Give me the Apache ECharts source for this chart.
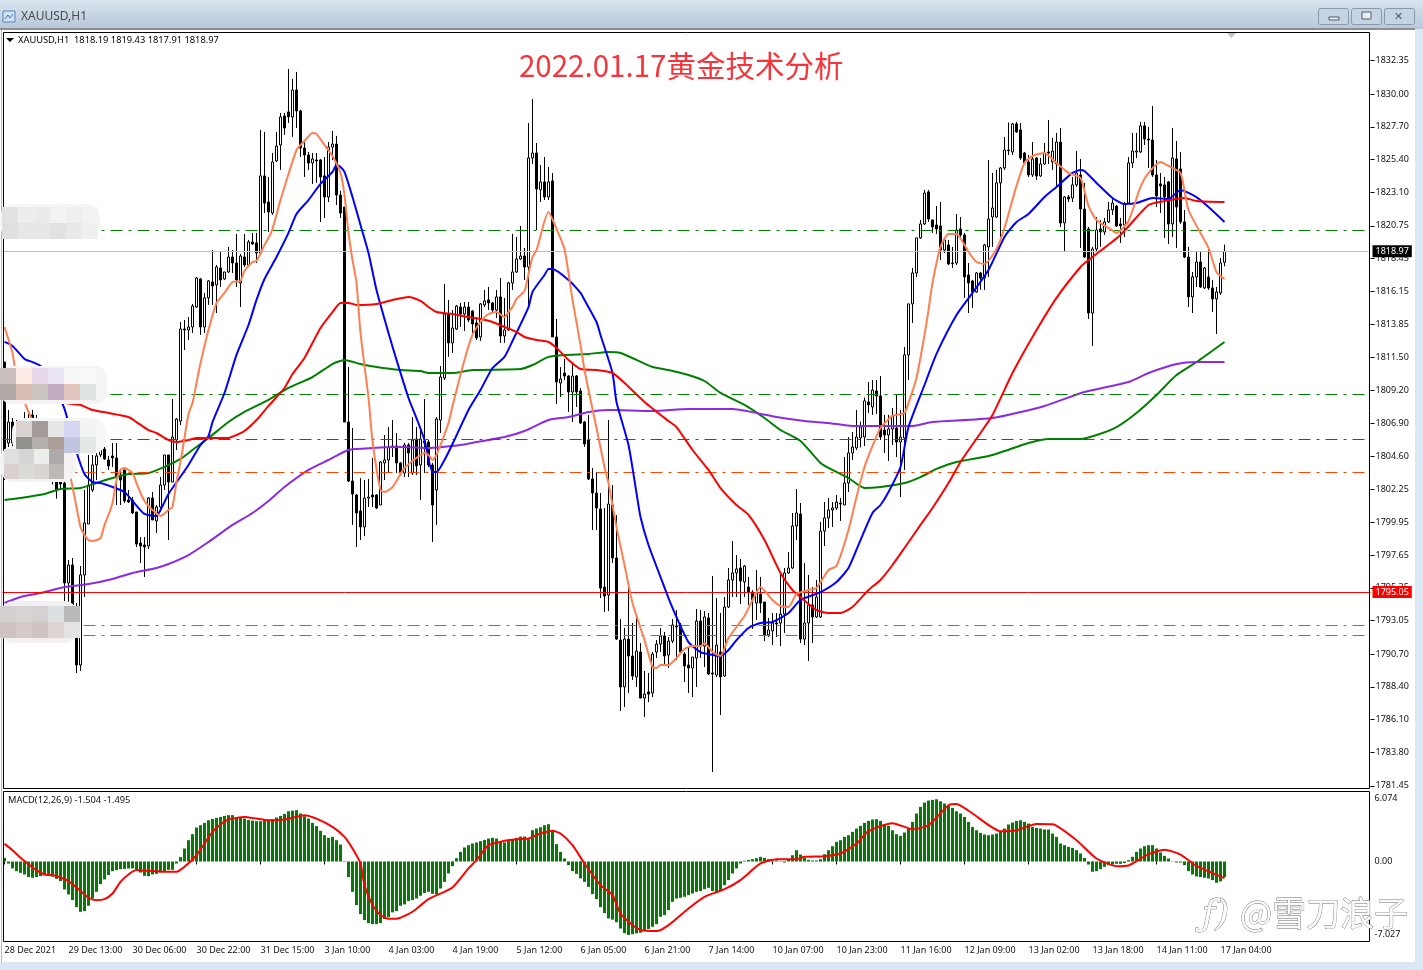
<!DOCTYPE html>
<html><head><meta charset="utf-8"><style>html,body{margin:0;padding:0;background:#dce7f4;overflow:hidden}#c{width:1423px;height:970px}</style>
<script src="https://cdn.jsdelivr.net/npm/echarts@6/dist/echarts.min.js"></script></head><body><div id="c"></div>
<script>
const timeLabels=['28 Dec 2021','29 Dec 13:00','30 Dec 06:00','30 Dec 22:00','31 Dec 15:00','3 Jan 10:00','4 Jan 03:00','4 Jan 19:00','5 Jan 12:00','6 Jan 05:00','6 Jan 21:00','7 Jan 14:00','10 Jan 07:00','10 Jan 23:00','11 Jan 16:00','12 Jan 09:00','13 Jan 02:00','13 Jan 18:00','14 Jan 11:00','17 Jan 04:00'];
const priceTicks=[1832.35,1830.00,1827.70,1825.40,1823.10,1820.75,1818.45,1816.15,1813.85,1811.50,1809.20,1806.90,1804.60,1802.25,1799.95,1797.65,1795.35,1793.05,1790.70,1788.40,1786.10,1783.80,1781.45];
const macdTicks=[6.074,0,-7.027];
// open, close, low, high
const candles=[
[1811.19,1805.02,1802.91,1811.19],[1805.51,1806.98,1805.23,1807.83],[1806.98,1805.51,1805.02,1807.26],[1806.42,1805.37,1804.88,1807.12],[1805.37,1806.28,1805.02,1806.77],[1806.28,1807.12,1805.72,1807.69],[1807.12,1806.56,1805.72,1807.55],[1807.48,1806.28,1805.37,1807.83],[1805.72,1806.77,1805.02,1807.48],[1806.77,1804.88,1804.3,1807.2],
[1805.02,1803.97,1803.4,1805.6],[1803.97,1804.88,1803.4,1805.4],[1804.88,1803.05,1802.6,1805.3],[1802.91,1802.21,1801.6,1803.6],[1803.47,1802.63,1802.21,1803.83],[1802.70,1795.69,1794.42,1803.05],[1795.69,1796.95,1794.28,1797.30],[1796.95,1793.79,1793.2,1797.44],[1792.88,1789.93,1789.37,1794.28],[1789.93,1796.25,1789.51,1796.88],
[1796.25,1799.90,1794.70,1802.21],[1799.83,1802.56,1799.83,1804.67],[1802.21,1803.97,1802.07,1804.67],[1803.97,1804.60,1802.91,1805.23],[1804.67,1805.09,1804.53,1805.23],[1805.09,1804.39,1804.32,1805.23],[1804.32,1803.90,1803.62,1804.60],[1804.60,1804.46,1803.83,1805.51],[1804.46,1803.12,1801.16,1805.51],[1803.26,1802.91,1801.16,1803.62],
[1803.62,1801.44,1801.30,1803.62],[1801.51,1801.37,1801.30,1802.21],[1801.51,1800.60,1800.53,1801.72],[1800.67,1798.42,1798.21,1800.67],[1798.49,1798.28,1797.09,1798.91],[1798.35,1798.21,1796.11,1798.91],[1798.28,1801.65,1798.07,1801.72],[1801.65,1800.11,1800.11,1802.07],[1800.04,1801.02,1799.19,1801.16],[1801.02,1802.56,1800.67,1803.12],
[1802.56,1804.67,1802.21,1804.67],[1804.67,1802.77,1798.70,1804.67],[1802.77,1805.93,1802.77,1808.60],[1805.72,1807.19,1805.02,1807.26],[1807.05,1813.51,1806.77,1814.00],[1813.51,1813.44,1812.04,1814.14],[1813.44,1813.65,1812.74,1814.35],[1813.65,1815.12,1813.23,1815.27],[1815.05,1817.09,1814.98,1817.16],[1817.02,1813.65,1813.09,1817.09],
[1813.65,1815.69,1813.23,1816.04],[1815.69,1816.88,1815.20,1816.95],[1816.81,1816.53,1815.20,1819.05],[1816.60,1817.86,1814.63,1818.00],[1817.79,1816.95,1816.46,1818.91],[1817.02,1817.51,1816.95,1817.51],[1817.51,1818.56,1817.44,1819.27],[1818.56,1818.14,1817.44,1819.05],[1818.14,1816.95,1816.46,1820.18],[1816.74,1818.63,1815.05,1818.77],
[1818.56,1818.00,1817.86,1820.18],[1818.00,1819.62,1817.86,1819.76],[1819.62,1819.48,1819.41,1820.25],[1819.55,1818.84,1818.14,1820.25],[1818.84,1824.25,1818.84,1827.48],[1824.25,1822.35,1821.65,1827.34],[1822.42,1821.72,1820.32,1824.18],[1821.65,1825.23,1821.51,1825.86],[1825.30,1826.35,1825.23,1827.34],[1826.42,1828.39,1824.67,1828.67],
[1828.46,1827.62,1827.13,1828.67],[1828.74,1828.39,1827.97,1831.76],[1828.39,1830.28,1826.99,1831.06],[1830.28,1828.81,1827.62,1831.55],[1828.81,1826.21,1825.58,1828.88],[1826.21,1825.72,1824.18,1826.77],[1825.72,1825.16,1824.67,1825.93],[1825.16,1825.44,1823.69,1825.86],[1825.37,1825.30,1823.76,1825.86],[1825.37,1824.18,1821.02,1825.44],
[1824.25,1822.77,1821.30,1825.58],[1822.77,1826.28,1822.42,1826.63],[1826.28,1826.49,1825.37,1827.41],[1826.49,1822.91,1822.21,1827.06],[1822.91,1821.65,1821.30,1823.20],[1822.07,1806.98,1806.98,1822.07],[1806.98,1802.84,1802.77,1810.84],[1802.84,1801.93,1799.76,1806.56],[1801.86,1800.60,1798.21,1801.93],[1800.74,1799.62,1798.70,1803.05],
[1799.62,1801.65,1798.98,1802.91],[1801.65,1801.72,1801.02,1802.98],[1801.86,1801.72,1801.02,1804.46],[1801.86,1800.95,1800.88,1801.93],[1801.16,1804.18,1801.16,1804.25],[1804.11,1804.32,1802.91,1806.07],[1804.32,1805.23,1803.40,1806.63],[1805.30,1805.23,1804.53,1807.12],[1805.30,1804.11,1803.40,1806.21],[1804.11,1803.40,1803.19,1804.18],
[1803.40,1805.37,1803.12,1805.51],[1805.37,1804.81,1803.12,1805.51],[1803.40,1805.72,1803.26,1807.33],[1805.79,1803.90,1803.26,1806.63],[1803.97,1805.79,1801.51,1806.63],[1805.65,1805.51,1803.40,1808.60],[1805.58,1803.97,1803.83,1805.72],[1803.97,1801.16,1798.56,1804.11],[1802.21,1807.19,1799.76,1807.33],[1807.12,1810.14,1806.21,1810.91],
[1810.07,1814.56,1809.93,1816.67],[1814.56,1812.53,1811.55,1815.55],[1812.53,1813.58,1811.83,1814.84],[1813.51,1815.12,1813.44,1815.20],[1815.05,1814.56,1813.65,1815.34],[1814.56,1815.05,1813.37,1815.41],[1815.05,1814.14,1814.00,1815.41],[1814.77,1813.86,1813.23,1814.84],[1813.93,1812.88,1812.74,1814.35],[1812.95,1815.27,1812.67,1815.34],
[1815.20,1815.48,1815.05,1816.25],[1815.55,1815.34,1814.84,1816.46],[1815.34,1814.84,1814.70,1815.41],[1814.84,1815.76,1814.28,1816.25],[1815.76,1813.02,1812.53,1817.09],[1813.02,1813.44,1812.53,1815.69],[1813.44,1816.74,1813.37,1816.81],[1816.74,1817.51,1816.25,1820.18],[1817.51,1818.42,1817.44,1819.97],[1818.42,1818.63,1818.35,1820.74],
[1818.63,1817.86,1816.95,1819.20],[1817.86,1825.51,1814.98,1827.97],[1825.51,1825.86,1825.09,1829.65],[1825.86,1823.34,1820.46,1826.56],[1823.27,1823.83,1822.42,1825.02],[1823.83,1822.77,1822.56,1825.58],[1822.77,1823.83,1822.56,1824.88],[1823.90,1812.95,1812.95,1824.46],[1812.95,1809.79,1808.25,1814.21],[1809.72,1810.00,1808.74,1810.84],
[1810.42,1810.21,1809.93,1811.41],[1810.21,1809.09,1807.69,1810.28],[1809.09,1810.21,1806.98,1811.12],[1810.21,1809.09,1808.04,1810.28],[1809.16,1806.91,1806.84,1809.37],[1806.98,1805.44,1805.23,1807.05],[1805.72,1802.98,1802.91,1807.48],[1802.98,1802.00,1799.40,1803.76],[1802.00,1800.95,1799.40,1803.47],[1800.88,1795.33,1794.63,1802.00],
[1795.40,1794.77,1793.65,1800.95],[1794.84,1801.23,1793.72,1807.12],[1801.16,1797.44,1797.09,1802.56],[1797.44,1791.75,1791.68,1800.46],[1791.68,1788.39,1786.70,1793.16],[1788.39,1791.75,1786.98,1792.53],[1791.75,1790.56,1787.97,1795.55],[1790.56,1789.16,1788.88,1792.88],[1789.09,1790.91,1788.39,1793.44],[1790.84,1787.61,1787.61,1791.47],
[1787.61,1787.89,1786.28,1789.51],[1788.04,1787.89,1787.33,1789.37],[1787.97,1790.70,1787.68,1790.84],[1790.84,1791.40,1790.42,1791.68],[1791.40,1791.97,1790.84,1792.53],[1791.97,1790.56,1789.93,1792.25],[1790.63,1791.61,1789.72,1791.89],[1791.61,1792.74,1791.47,1793.16],[1792.67,1792.60,1790.28,1793.79],[1792.74,1790.84,1790.77,1792.88],
[1790.70,1789.86,1788.74,1790.84],[1789.93,1789.72,1787.97,1791.19],[1789.72,1790.49,1787.68,1790.49],[1790.42,1793.02,1788.39,1793.86],[1793.02,1791.33,1790.42,1793.79],[1791.26,1793.30,1789.79,1793.72],[1793.23,1789.30,1789.23,1793.58],[1789.37,1789.30,1782.42,1796.18],[1789.23,1791.33,1789.09,1794.63],[1790.84,1789.09,1786.42,1793.58],
[1789.16,1794.00,1789.09,1794.70],[1794.00,1795.90,1793.93,1796.74],[1795.90,1796.39,1794.70,1798.63],[1796.39,1796.67,1794.70,1797.65],[1796.74,1795.83,1794.21,1797.37],[1795.76,1796.88,1794.70,1796.95],[1795.40,1795.05,1794.14,1796.11],[1795.05,1794.49,1792.46,1795.19],[1794.28,1794.98,1793.09,1796.60],[1794.91,1794.28,1793.58,1796.11],
[1794.35,1792.04,1791.61,1794.35],[1792.04,1792.39,1791.89,1793.23],[1792.32,1792.88,1791.33,1793.58],[1792.88,1792.81,1791.89,1793.58],[1792.88,1793.51,1791.26,1796.39],[1793.51,1796.39,1792.18,1796.74],[1796.39,1796.74,1796.32,1797.86],[1796.74,1799.69,1796.67,1800.60],[1799.69,1800.60,1798.70,1802.28],[1800.53,1791.75,1791.47,1801.30],
[1791.75,1792.88,1791.33,1797.09],[1792.88,1794.14,1790.21,1796.25],[1794.14,1793.30,1791.47,1795.40],[1793.30,1794.70,1793.23,1795.90],[1793.30,1799.33,1793.23,1799.97],[1799.33,1800.25,1798.28,1801.37],[1800.25,1800.81,1799.54,1801.65],[1800.81,1800.95,1799.62,1801.37],[1800.95,1801.37,1800.81,1801.86],[1801.30,1801.23,1800.04,1801.65],
[1801.16,1802.70,1801.16,1804.53],[1802.70,1804.81,1802.07,1805.93],[1804.81,1805.23,1804.32,1806.28],[1805.16,1805.93,1805.02,1807.83],[1805.86,1806.63,1805.2,1807.0],[1805.93,1808.46,1805.3,1808.7],[1808.39,1808.18,1807.62,1809.79],[1808.04,1809.23,1807.48,1809.93],[1809.16,1808.81,1807.55,1809.93],[1808.81,1805.93,1805.72,1810.21],
[1806.42,1806.07,1804.81,1807.48],[1806.07,1806.49,1804.25,1807.48],[1806.49,1807.41,1805.37,1807.97],[1806.56,1805.58,1804.53,1808.88],[1805.58,1805.93,1801.72,1807.83],[1805.86,1811.69,1803.62,1812.25],[1811.69,1815.27,1809.93,1815.27],[1815.27,1817.44,1813.93,1817.79],[1817.44,1819.90,1817.16,1819.90],[1819.90,1820.88,1819.83,1821.16],
[1820.88,1823.05,1820.81,1823.27],[1823.13,1821.23,1821.02,1823.27],[1821.16,1820.67,1820.25,1821.16],[1820.81,1820.53,1820.18,1822.14],[1820.74,1819.05,1818.35,1822.42],[1819.05,1819.76,1818.84,1819.90],[1819.41,1818.07,1818.00,1819.76],[1818.14,1818.10,1817.79,1819.27],[1818.14,1820.46,1818.00,1821.58],[1820.53,1820.11,1819.97,1821.37],
[1820.11,1817.16,1815.69,1820.25],[1817.30,1816.74,1814.63,1818.14],[1816.88,1816.11,1814.98,1816.95],[1816.11,1817.44,1816.04,1817.51],[1817.44,1817.09,1816.25,1817.51],[1817.09,1819.41,1816.25,1819.48],[1819.27,1821.23,1817.16,1825.37],[1821.37,1822.00,1819.27,1824.46],[1821.37,1823.76,1821.30,1824.67],[1823.76,1824.81,1819.97,1824.88],
[1824.81,1826.07,1824.67,1826.99],[1826.07,1826.03,1825.72,1828.0],[1825.93,1827.90,1825.72,1827.97],[1827.90,1827.34,1827.27,1828.04],[1827.48,1825.51,1825.37,1827.97],[1825.86,1825.16,1825.16,1825.93],[1825.23,1824.32,1824.18,1825.72],[1824.32,1825.44,1824.18,1826.63],[1825.51,1824.25,1823.97,1825.58],[1824.25,1825.09,1824.18,1825.51],
[1825.09,1825.86,1825.02,1826.56],[1825.93,1825.86,1825.09,1828.18],[1825.23,1826.00,1824.67,1826.92],[1825.09,1826.63,1823.48,1827.27],[1826.63,1820.95,1820.67,1827.62],[1820.95,1822.77,1818.98,1822.84],[1822.77,1822.63,1822.42,1822.91],[1822.70,1823.62,1822.42,1824.18],[1823.62,1824.46,1823.48,1826.00],[1824.32,1821.93,1819.20,1825.44],
[1821.93,1818.56,1818.49,1823.76],[1820.53,1814.63,1814.21,1820.67],[1814.63,1819.12,1812.32,1819.27],[1819.12,1820.46,1818.91,1821.37],[1820.53,1820.32,1819.27,1821.16],[1820.32,1821.02,1820.11,1821.30],[1821.02,1821.86,1820.95,1822.42],[1821.86,1822.35,1821.51,1822.70],[1822.14,1820.74,1820.67,1822.21],[1820.88,1820.74,1819.55,1821.30],
[1820.81,1822.28,1819.97,1822.42],[1822.35,1825.16,1822.28,1825.58],[1825.16,1826.00,1824.81,1827.27],[1825.93,1826.0,1825.5,1827.27],[1825.93,1827.76,1825.86,1828.04],[1827.76,1826.84,1826.42,1828.04],[1826.84,1826.77,1824.81,1827.69],[1826.77,1824.32,1824.18,1829.16],[1824.32,1822.84,1822.07,1825.37],[1823.69,1823.55,1821.65,1824.46],
[1823.62,1822.77,1819.90,1824.18],[1823.83,1820.88,1819.48,1823.90],[1820.88,1825.51,1819.97,1827.62],[1825.44,1822.07,1819.20,1826.70],[1824.74,1821.02,1820.88,1825.93],[1821.02,1818.56,1818.49,1821.86],[1818.56,1815.76,1815.05,1819.27],[1815.76,1817.16,1814.63,1817.51],[1817.16,1818.21,1816.46,1818.91],[1818.21,1816.46,1816.39,1818.91],
[1816.39,1817.79,1816.32,1817.86],[1817.16,1816.39,1816.25,1819.20],[1816.39,1815.62,1814.70,1816.95],[1815.62,1816.11,1813.16,1816.46],[1816.04,1818.14,1815.90,1818.49],[1818.19,1818.97,1817.91,1819.43]];
// moving averages as [bar index, price]
const maCoral=[[0,1813.65],[2,1811.83],[3,1810.07],[5,1808.39],[7,1807.12],[9,1806.77],[14,1805.16],[15,1804.88],[16,1803.83],[18,1801.02],[19,1799.62],[20,1799.05],[21,1798.70],[22,1798.63],[24,1798.84],[25,1799.76],[26,1800.46],[27,1801.30],[28,1802.91],[29,1803.62],[30,1803.76],[32,1803.40],[33,1802.70],[34,1802.00],[35,1801.44],[36,1801.09],[37,1800.81],[39,1800.39],[41,1800.81],[42,1801.02],[43,1802.77],[44,1804.18],[45,1805.86],[46,1807.55],[47,1808.32],[48,1809.72],[49,1811.12],[51,1813.44],[53,1815.34],[55,1816.04],[57,1816.81],[59,1816.88],[60,1817.58],[62,1818.21],[63,1818.28],[65,1819.41],[66,1819.90],[67,1820.53],[69,1822.56],[71,1824.39],[73,1826.07],[74,1826.42],[75,1826.70],[77,1827.27],[78,1827.20],[80,1826.42],[82,1825.65],[84,1824.46],[85,1822.91],[86,1820.25],[87,1818.35],[88,1816.74],[89,1813.23],[91,1808.67],[92,1805.65],[94,1802.21],[95,1802.07],[97,1802.42],[100,1803.76],[103,1804.46],[105,1804.81],[106,1804.67],[107,1804.32],[108,1804.67],[111,1806.91],[112,1808.11],[115,1811.34],[117,1813.09],[119,1814.00],[121,1814.56],[123,1814.70],[125,1814.35],[126,1814.70],[127,1815.05],[128,1815.62],[130,1816.18],[131,1817.37],[132,1818.56],[133,1819.05],[136,1821.72],[138,1820.53],[140,1819.12],[142,1815.55],[144,1812.39],[145,1810.63],[146,1809.23],[148,1806.56],[150,1803.83],[151,1802.70],[152,1801.16],[153,1799.62],[155,1796.95],[157,1794.28],[160,1791.68],[162,1789.79],[163,1789.72],[164,1789.93],[166,1789.93],[168,1790.42],[170,1791.05],[172,1791.26],[174,1791.26],[175,1791.47],[177,1790.84],[179,1790.56],[181,1791.82],[185,1793.37],[187,1794.49],[189,1795.40],[192,1794.49],[194,1794.07],[196,1794.0],[198,1794.91],[201,1795.19],[203,1795.33],[206,1796.60],[208,1796.88],[211,1799.40],[213,1801.72],[215,1803.83],[217,1805.30],[219,1806.56],[222,1807.41],[225,1807.62],[226,1808.32],[228,1810.07],[230,1813.09],[231,1814.84],[232,1816.74],[234,1819.27],[236,1820.18],[238,1820.18],[240,1819.41],[241,1818.91],[243,1818.21],[245,1818.07],[248,1819.12],[250,1820.60],[253,1823.55],[255,1825.16],[257,1825.65],[260,1825.86],[263,1825.16],[266,1824.46],[269,1824.11],[271,1822.14],[273,1821.16],[276,1820.60],[278,1820.25],[281,1821.09],[284,1823.48],[286,1824.46],[289,1825.23],[291,1824.95],[294,1824.46],[296,1821.86],[301,1819.20],[303,1817.51],[305,1817.02]];
const maBlue=[[0,1812.60],[2,1812.32],[5,1811.41],[7,1811.19],[9,1810.91],[12,1809.93],[15,1807.90],[16,1806.91],[18,1804.88],[20,1803.33],[22,1802.77],[24,1802.70],[27,1802.42],[30,1802.07],[32,1801.44],[35,1800.53],[38,1800.39],[39,1800.81],[41,1801.93],[42,1802.35],[46,1803.97],[49,1805.37],[51,1806.00],[52,1806.98],[55,1809.02],[58,1811.69],[61,1813.79],[63,1815.55],[65,1817.02],[68,1818.56],[71,1820.25],[73,1821.58],[76,1822.56],[79,1823.69],[82,1824.53],[83,1825.02],[84,1824.88],[85,1824.53],[87,1822.77],[89,1820.81],[91,1818.84],[93,1816.25],[96,1813.23],[98,1811.34],[101,1808.67],[103,1807.26],[105,1805.72],[107,1803.47],[108,1803.47],[110,1804.32],[112,1805.44],[116,1807.83],[119,1809.23],[122,1810.77],[125,1811.55],[127,1812.67],[131,1815.05],[132,1816.11],[135,1817.30],[136,1817.72],[137,1817.72],[141,1816.95],[144,1816.04],[145,1815.55],[148,1814.00],[149,1813.09],[152,1810.42],[153,1808.39],[156,1805.37],[158,1802.0],[159,1800.32],[161,1798.35],[164,1796.11],[166,1794.63],[168,1793.30],[171,1791.54],[174,1790.84],[176,1790.70],[179,1790.56],[181,1790.98],[183,1791.68],[186,1792.53],[189,1792.88],[192,1792.95],[196,1793.58],[199,1794.49],[204,1795.05],[208,1795.76],[211,1796.74],[214,1798.70],[217,1800.60],[219,1801.16],[221,1802.07],[224,1803.83],[226,1806.63],[230,1809.58],[233,1811.76],[238,1814.49],[242,1816.04],[246,1817.65],[250,1819.97],[253,1821.02],[256,1821.58],[260,1822.77],[263,1823.48],[267,1824.46],[269,1824.67],[270,1824.60],[273,1823.76],[277,1822.70],[280,1822.28],[283,1822.35],[287,1822.70],[291,1822.63],[294,1823.27],[298,1822.77],[301,1822.07],[305,1821.02]];
const maRed=[[0,1809.37],[5,1808.95],[10,1808.60],[15,1808.32],[19,1808.18],[22,1807.83],[26,1807.62],[31,1807.33],[33,1806.98],[36,1806.42],[38,1806.21],[41,1805.72],[43,1805.58],[46,1805.72],[48,1805.86],[56,1805.86],[58,1806.07],[60,1806.35],[63,1807.12],[66,1808.11],[70,1809.37],[72,1810.35],[75,1811.48],[79,1813.58],[82,1814.70],[84,1815.34],[86,1815.34],[88,1815.20],[93,1815.27],[97,1815.55],[101,1815.76],[104,1815.48],[106,1815.05],[108,1814.70],[112,1814.56],[116,1814.35],[119,1814.21],[122,1814.00],[125,1813.65],[128,1813.30],[130,1812.95],[133,1812.74],[136,1812.60],[138,1812.18],[141,1811.34],[144,1810.70],[148,1810.63],[152,1810.42],[155,1809.72],[160,1808.39],[166,1807.05],[168,1806.63],[172,1805.02],[176,1803.62],[179,1802.35],[183,1801.16],[186,1800.46],[190,1798.70],[194,1796.39],[197,1795.19],[199,1794.70],[203,1793.79],[206,1793.58],[209,1793.58],[212,1794.00],[216,1795.19],[219,1795.90],[222,1796.95],[225,1798.14],[229,1799.76],[232,1800.95],[236,1802.70],[239,1804.18],[244,1806.21],[247,1807.48],[252,1810.42],[257,1812.95],[263,1815.69],[269,1817.86],[271,1818.35],[279,1820.11],[286,1822.21],[290,1822.49],[295,1822.70],[298,1822.49],[305,1822.42]];
const maGreen=[[0,1801.51],[4,1801.65],[10,1801.93],[14,1802.28],[19,1802.35],[23,1802.70],[27,1803.05],[31,1803.33],[36,1803.40],[40,1803.83],[44,1804.39],[47,1805.02],[51,1805.86],[56,1806.98],[60,1807.69],[66,1808.53],[71,1809.37],[77,1810.14],[82,1811.05],[85,1811.34],[89,1811.05],[93,1810.84],[99,1810.63],[104,1810.56],[106,1810.42],[112,1810.42],[117,1810.63],[129,1810.70],[132,1810.98],[136,1811.55],[140,1811.69],[146,1811.76],[151,1811.90],[154,1811.83],[158,1811.34],[162,1810.84],[166,1810.63],[171,1810.28],[175,1809.86],[179,1809.02],[185,1808.18],[190,1807.26],[194,1806.42],[199,1805.65],[204,1804.11],[207,1803.62],[211,1803.05],[215,1802.35],[219,1802.42],[225,1802.70],[229,1803.12],[233,1803.69],[238,1804.18],[246,1804.60],[250,1804.95],[256,1805.51],[261,1805.79],[269,1805.79],[273,1806.07],[278,1806.63],[283,1807.62],[288,1808.88],[293,1810.28],[298,1811.19],[305,1812.60]];
const maPurple=[[0,1794.28],[4,1794.70],[9,1794.98],[15,1795.40],[21,1795.61],[27,1795.97],[32,1796.39],[38,1796.74],[41,1797.02],[46,1797.65],[51,1798.56],[57,1799.76],[62,1800.60],[66,1801.44],[70,1802.42],[76,1803.62],[81,1804.32],[86,1805.02],[92,1805.16],[99,1805.23],[106,1805.16],[114,1805.37],[118,1805.58],[125,1805.93],[130,1806.35],[136,1807.12],[141,1807.33],[146,1807.69],[151,1807.83],[162,1807.76],[171,1807.90],[182,1807.90],[188,1807.62],[193,1807.33],[200,1807.05],[206,1806.91],[212,1806.70],[227,1806.70],[232,1806.98],[247,1807.26],[260,1808.11],[270,1809.09],[281,1809.79],[286,1810.42],[293,1811.05],[298,1811.19],[305,1811.19]];
const macdHist=[.35,-.2,-.67,-.93,-1.09,-1.25,-1.5,-1.57,-1.5,-1.41,-1.31,-1.38,-1.47,-1.67,-1.89,-2.69,-3.17,-3.72,-4.39,-4.84,-4.78,-4.26,-3.56,-2.92,-2.18,-1.73,-1.31,-.93,-.83,-.74,-.71,-.67,-.67,-.77,-1.06,-1.38,-1.41,-1.25,-1.19,-1.06,-.93,-.80,-.80,-.19,.42,1.25,2.05,2.63,3.27,3.49,3.72,3.97,4.10,4.2,4.29,4.39,4.46,4.46,4.29,4.2,4.13,4.0,3.94,3.88,3.88,3.97,3.97,4.07,4.23,4.39,4.58,4.84,4.9,4.94,4.62,4.36,4.13,3.72,3.4,2.95,2.53,2.28,2.37,2.05,1.63,-.05,-1.5,-2.92,-4.2,-5.06,-5.64,-5.93,-6.03,-6.03,-5.93,-5.54,-5.35,-4.9,-4.78,-4.26,-4.13,-3.81,-3.72,-3.56,-3.3,-3.04,-2.92,-3.11,-3.17,-2.6,-1.96,-1.15,-.45,.32,.93,1.35,1.57,1.73,1.83,1.96,2.08,2.21,2.28,2.21,1.89,1.83,1.96,2.15,2.28,2.4,2.4,2.15,3.01,3.17,3.3,3.49,3.59,2.92,1.67,.93,.29,-.35,-.93,-1.19,-1.63,-1.96,-2.44,-3.14,-3.62,-4.39,-4.97,-5.48,-5.6,-5.85,-6.45,-6.9,-7.08,-7.0,-6.92,-6.86,-6.67,-6.5,-6.28,-6.03,-5.32,-5.16,-4.68,-3.88,-3.56,-3.49,-3.4,-3.24,-3.08,-2.92,-2.85,-2.66,-2.53,-2.85,-2.98,-2.76,-2.28,-1.79,-1.15,-.67,-.19,.07,.16,.22,.32,.45,.35,.22,.1,.1,.03,-.1,.22,.6,1.09,.67,.35,.16,.1,.1,.22,.7,1.09,1.47,1.89,2.05,2.37,2.53,2.85,3.17,3.43,3.72,3.91,4.04,4.07,3.91,3.59,3.43,3.01,2.63,2.47,2.79,3.17,3.81,4.62,5.26,5.67,5.87,5.93,5.99,5.8,5.58,5.35,5.16,4.84,4.62,4.29,3.81,3.33,3.01,2.76,2.6,2.53,2.6,2.69,2.85,3.17,3.56,3.75,3.91,3.97,3.81,3.65,3.33,3.24,3.17,3.08,3.08,2.69,2.37,1.73,1.57,1.41,1.31,1.09,.77,.35,-.29,-.99,-.93,-.74,-.51,-.35,-.29,-.22,-.22,-.16,.13,.45,.93,1.25,1.47,1.57,1.57,1.25,.87,.54,.29,.03,-.1,-.1,-.35,-.93,-1.25,-1.44,-1.5,-1.57,-1.63,-1.79,-2.05,-1.92,-1.504];
const macdSignal=[[0,1.70],[2,1.09],[4,.35],[6,-.26],[8,-.83],[10,-1.25],[12,-1.31],[14,-1.54],[16,-1.89],[19,-2.85],[21,-3.49],[23,-3.72],[25,-3.62],[27,-3.08],[29,-1.96],[31,-1.25],[33,-.83],[36,-.9],[40,-.99],[43,-.99],[45,-.51],[48,.6],[50,1.73],[52,2.85],[54,3.56],[56,4.04],[60,4.29],[63,4.13],[66,3.97],[70,4.04],[75,4.46],[78,4.13],[82,3.33],[85,2.37],[87,1.25],[89,-.19],[90,-2.28],[92,-4.2],[94,-5.16],[96,-5.51],[98,-5.51],[102,-4.84],[106,-3.62],[112,-2.5],[116,-.67],[118,.13],[121,1.57],[125,1.99],[128,2.15],[131,2.21],[134,2.69],[137,2.95],[139,2.69],[142,1.57],[145,-.19],[149,-2.28],[152,-3.24],[154,-5.0],[157,-6.12],[159,-6.6],[163,-6.7],[166,-6.12],[171,-4.52],[175,-3.4],[180,-2.66],[184,-1.79],[189,-.19],[193,.22],[198,.22],[200,.45],[205,.51],[209,.77],[213,1.73],[216,2.92],[222,3.69],[227,3.11],[231,3.49],[236,5.42],[238,5.54],[242,4.62],[249,2.92],[253,3.01],[258,3.62],[262,3.59],[268,2.05],[273,.29],[278,-.45],[281,-.38],[286,.71],[290,1.12],[294,.67],[298,-.42],[305,-1.6]];
const levels=[{v:1820.42,c:'#008000',k:'dd'},{v:1818.97,c:'#c0c0c0',k:'solid',tag:'1818.97',bg:'#000'},{v:1808.95,c:'#008000',k:'dd'},{v:1805.75,c:'#008000',k:'dd'},{v:1803.44,c:'#ff4500',k:'dd'},{v:1795.05,c:'#ff0000',k:'solid',tag:'1795.05',bg:'#ff0000'},{v:1792.70,c:'#ff4500',k:'dd'},{v:1792.00,c:'#ff4500',k:'dd'}];

const BAR_SLOTS=342;
const categories=Array.from({length:BAR_SLOTS},(_,i)=>i%16===0&&timeLabels[i/16]?timeLabels[i/16]:'');
const uiFont='"Noto Sans","Liberation Sans",sans-serif';
const chart=echarts.init(document.getElementById('c'),null,{renderer:'canvas'});
const maLine=(name,data,color,z)=>({name,type:'line',data,xAxisIndex:0,yAxisIndex:0,symbol:'none',smooth:0.2,z,silent:true,lineStyle:{color,width:2},itemStyle:{color}});
const mosaic=(x0,y0,s,rows,z)=>{const a=[];rows.forEach((r,j)=>r.forEach((c,i)=>{if(c)a.push({type:'rect',z:z||50,silent:true,shape:{x:x0+i*s,y:y0+j*s,width:s,height:s},style:{fill:c}})}));return a;};
const txt=(x,y,t,size,color,extra)=>({type:'text',z:60,silent:true,x,y,style:Object.assign({text:t,fill:color,font:size+'px '+uiFont,textVerticalAlign:'middle'},extra||{})});
const chrome=[
 {type:'rect',z:-2,silent:true,shape:{x:0,y:0,width:1423,height:29},style:{fill:new echarts.graphic.LinearGradient(0,0,0,1,[{offset:0,color:'#d9e5ef'},{offset:1,color:'#b7c7d9'}])}},
 {type:'rect',z:-2,silent:true,shape:{x:0,y:29,width:1415,height:933},style:{fill:'#fff'}},
 {type:'rect',z:-1,silent:true,shape:{x:0,y:28,width:1415,height:2},style:{fill:'#8e8e8e'}},
 {type:'rect',z:-1,silent:true,shape:{x:1,y:30,width:1,height:932},style:{fill:'#b9b9b9'}},
 {type:'rect',z:40,silent:true,shape:{x:3.5,y:32.5,width:1366,height:756},style:{fill:'none',stroke:'#000',lineWidth:1}},
 {type:'rect',z:40,silent:true,shape:{x:3.5,y:791.5,width:1366,height:150},style:{fill:'none',stroke:'#000',lineWidth:1}},
 {type:'polygon',z:41,silent:true,shape:{points:[[6,38],[14,38],[10,42]]},style:{fill:'#000'}},
 {type:'polygon',z:41,silent:true,shape:{points:[[1227,33],[1236,33],[1231.5,38]]},style:{fill:'#c4c4c4'}},
 {type:'rect',z:41,silent:true,shape:{x:3,y:11,width:12,height:11},style:{fill:'#cfe3f5',stroke:'#4f86c0',lineWidth:1}},
 {type:'polyline',z:42,silent:true,shape:{points:[[5,19],[8,15],[10,18],[13,14]]},style:{fill:'none',stroke:'#3c72b0',lineWidth:1}},
 txt(21,16.5,'XAUUSD,H1',12,'#4a4a4a'),
 txt(18,40.5,'XAUUSD,H1  1818.19 1819.43 1817.91 1818.97',9.3,'#000'),
 txt(8,800.5,'MACD(12,26,9) -1.504 -1.495',9.3,'#111'),
 {type:'text',z:60,silent:true,x:519,y:66,style:{text:'2022.01.17黄金技术分析',fill:'#f4363c',font:'29.5px "Noto Sans CJK SC","Noto Sans",sans-serif',textVerticalAlign:'middle'}},
 {type:'text',z:60,silent:true,x:1240,y:913,style:{text:'@雪刀浪子',fill:'#fbfbfb',stroke:'#6e6e6e',lineWidth:0.8,font:'34px "Noto Sans CJK SC",sans-serif',textVerticalAlign:'middle'}},
 {type:'text',z:60,silent:true,x:1202,y:916,style:{text:'ƒ)',fill:'#fbfbfb',stroke:'#6e6e6e',lineWidth:0.8,font:'italic 36px "DejaVu Serif",serif',textVerticalAlign:'middle'}},
];
[[1318,'m'],[1351,'r'],[1384,'x']].forEach(([x,k])=>{
 chrome.push({type:'rect',z:41,silent:true,shape:{x:x+.5,y:8.5,width:30,height:16,r:2},style:{fill:'#c5d3e2',stroke:'#8a98ad',lineWidth:1}});
 if(k==='m')chrome.push({type:'rect',z:42,silent:true,shape:{x:x+11,y:17,width:10,height:3},style:{fill:'#e9eef4',stroke:'#4e5a6c',lineWidth:1}});
 if(k==='r')chrome.push({type:'rect',z:42,silent:true,shape:{x:x+11,y:12,width:9,height:7},style:{fill:'#e9eef4',stroke:'#4e5a6c',lineWidth:1}});
 if(k==='x')chrome.push(txt(x+10,16.5,'✕',11,'#4e5a6c'));
});
const blobs=[
 {type:'rect',z:49,silent:true,shape:{x:0,y:204,width:100,height:35,r:14},style:{fill:'#f6f7f5'}},
 ...mosaic(2,207,16,[['#e2e3e1','#ecedec','#ebebeb','#f2f3f5','#efefed','#f3f4f2'],['#dde0dc','#e5e8e4','#e6e8e5','#dfe2de','#e8eae7','#edf0ec']]),
 {type:'rect',z:49,silent:true,shape:{x:0,y:366,width:107,height:38,r:12},style:{fill:'#f5f3f3'}},
 ...mosaic(0,368,16,[['#c9bfbd','#fde9e3','#e6d7ea','#ebe6f5','#f8f8f8','#fafafa'],['#b0a9a6','#d8bdb3','#cbc6c0','#c3adc3','#e2c5bd','#dde3e0']]),
 {type:'rect',z:49,silent:true,shape:{x:12,y:418,width:94,height:36,r:14},style:{fill:'#f6f6f6'}},
 ...mosaic(16,421,16,[['#d9d3d0','#a39b97','#e6e6e6','#d6d6f0','#f1f4f2'],['#8e918d','#b5afab','#ad9f98','#c0c5e0','#e3e8e5']]),
 {type:'rect',z:49,silent:true,shape:{x:0,y:446,width:76,height:36,r:14},style:{fill:'#f4f3f2'}},
 ...mosaic(4,449,15,[['#dfdfdf','#d5d5d5','#eceeee','#aeaaa9'],['#d9d1cf','#dcdad6','#d9d5d0','#bdb9b7']]),
 {type:'rect',z:49,silent:true,shape:{x:0,y:601,width:78,height:42,r:14},style:{fill:'#f4eff2'}},
 ...mosaic(0,606,16,[['#d2d0cf','#d5d3d4','#d3d1d1','#dadfe1','#b9b9b9'],['#cec3c0','#d6cac8','#cfc4c2','#ddd4d3','#e4e2e2']]),
];
chart.setOption({
 animation:false,
 backgroundColor:'transparent',
 grid:[{left:2.5,width:1368,top:32,height:757},{left:2.5,width:1368,top:792,height:150}],
 xAxis:[
  {type:'category',gridIndex:0,data:categories,boundaryGap:true,axisLine:{show:false},axisTick:{show:false},axisLabel:{show:false},splitLine:{show:false}},
  {type:'category',gridIndex:1,data:categories,boundaryGap:true,axisLine:{show:false},
   axisTick:{show:true,length:3,alignWithLabel:true,interval:i=>i%16===0&&i<=304,lineStyle:{color:'#000'}},
   axisLabel:{show:true,interval:i=>i%16===0&&i<=304,align:'left',margin:4,fontSize:9,color:'#111',fontFamily:uiFont,showMinLabel:true,hideOverlap:false},splitLine:{show:false}}
 ],
 yAxis:[
  {type:'value',gridIndex:0,position:'right',min:1781.23,max:1834.35,scale:true,axisLine:{show:false},
   axisTick:{show:true,length:4,customValues:priceTicks,lineStyle:{color:'#000'}},
   axisLabel:{show:true,customValues:priceTicks,margin:5,fontSize:9,color:'#111',fontFamily:uiFont,formatter:v=>Number(v).toFixed(2),hideOverlap:false},splitLine:{show:false}},
  {type:'value',gridIndex:1,position:'right',min:-7.75,max:6.69,axisLine:{show:false},
   axisTick:{show:false,customValues:macdTicks},
   axisLabel:{show:true,customValues:macdTicks,margin:4,fontSize:9,color:'#111',fontFamily:uiFont,formatter:v=>v===0?'0.00':String(v),hideOverlap:false},splitLine:{show:false}}
 ],
 series:[
  {name:'levels',type:'line',data:[],xAxisIndex:0,yAxisIndex:0,z:1,silent:true,
   markLine:{silent:true,symbol:'none',animation:false,precision:2,
    data:levels.map(l=>({yAxis:l.v,lineStyle:{color:l.c,width:1,opacity:1,type:l.k==='dd'?[12,6,3,6]:'solid'},
     label:l.tag?{show:true,position:'end',distance:2,formatter:l.tag,color:'#fff',backgroundColor:l.bg,padding:[2,3,1,3],fontSize:9,fontFamily:uiFont}:{show:false}}))}},
  {name:'XAUUSD',type:'candlestick',data:candles,xAxisIndex:0,yAxisIndex:0,barWidth:2,z:3,silent:true,
   itemStyle:{color:'#fff',color0:'#000',borderColor:'#000',borderColor0:'#000',borderColorDoji:'#000',borderWidth:1}},
  maLine('MA coral',maCoral,'#ff7f50',6),
  maLine('MA blue',maBlue,'#0000ff',5),
  maLine('MA red',maRed,'#ff0000',5),
  maLine('MA green',maGreen,'#008000',4),
  maLine('MA purple',maPurple,'#8a2be2',4),
  {name:'MACD',type:'bar',data:macdHist,xAxisIndex:1,yAxisIndex:1,barWidth:3,silent:true,itemStyle:{color:'#087808'},z:3},
  {name:'Signal',type:'line',data:macdSignal,xAxisIndex:1,yAxisIndex:1,symbol:'none',smooth:0.2,silent:true,z:5,lineStyle:{color:'#ff0000',width:2},itemStyle:{color:'#ff0000'}}
 ],
 graphic:{elements:[...chrome,...blobs]}
});
</script></body></html>
